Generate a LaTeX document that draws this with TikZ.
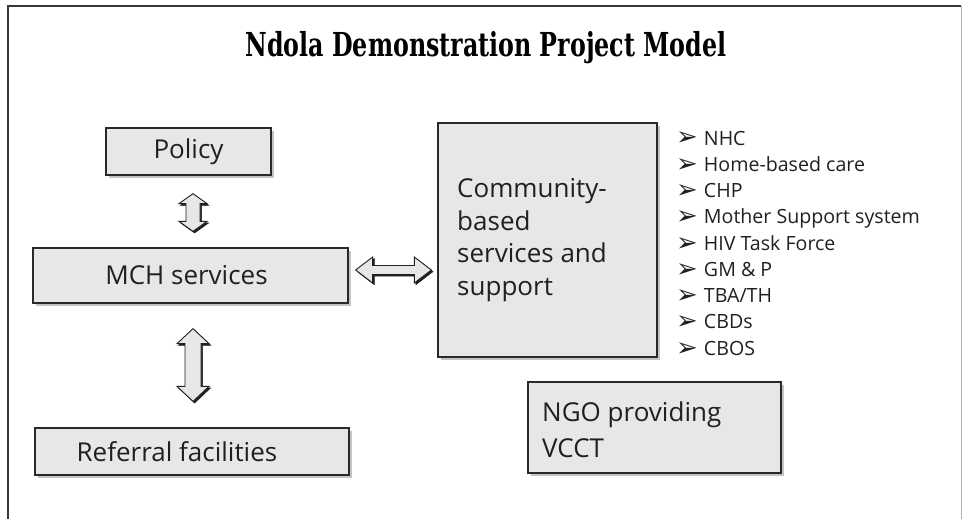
\documentclass[tikz,border=0pt]{standalone}
\usepackage{fontspec}
\usepackage{graphicx}
\setmainfont{Open Sans}
\newfontfamily\titlefont{DejaVu Serif}
\newfontfamily\symfont{DejaVu Sans}
\usetikzlibrary{calc,shadows}
\definecolor{boxfill}{HTML}{E6E7E8}
\definecolor{boxline}{HTML}{2B2829}
\definecolor{shadowc}{HTML}{C4C4C4}
\definecolor{framec}{HTML}{3A3738}
\definecolor{txt}{HTML}{231F20}
\tikzset{
  box/.style={draw=boxline, line width=1.3pt, fill=boxfill, inner sep=0pt,
    drop shadow={shadow xshift=3pt, shadow yshift=-3pt, fill=shadowc, opacity=1}},
  lbl/.style={inner sep=0pt, text=txt, font=\fontsize{26}{32.7}\selectfont},
  item/.style={inner sep=0pt, text=txt, font=\fontsize{19.6}{24}\selectfont, anchor=base west},
  arrshadow/.style={fill=txt, draw=txt, line width=0.6pt},
  arrbody/.style={fill=boxfill, draw=txt, line width=0.9pt, line join=miter},
}
% vertical double arrow: style, top, bottom, shaft half, head half, head length, offset
\newcommand{\vdblpath}[7]{%
  \path[#1] let \p1=($(#2)+(#7pt,-#7pt)$), \p2=($(#3)+(#7pt,-#7pt)$) in
    (\x1,\y1) -- ({\x1+#5pt},{\y1-#6pt}) -- ({\x1+#4pt},{\y1-#6pt}) -- ({\x1+#4pt},{\y2+#6pt})
    -- ({\x1+#5pt},{\y2+#6pt}) -- (\x1,\y2) -- ({\x1-#5pt},{\y2+#6pt}) -- ({\x1-#4pt},{\y2+#6pt})
    -- ({\x1-#4pt},{\y1-#6pt}) -- ({\x1-#5pt},{\y1-#6pt}) -- cycle;}
\newcommand{\hdblpath}[7]{%
  \path[#1] let \p1=($(#2)+(#7pt,-#7pt)$), \p2=($(#3)+(#7pt,-#7pt)$) in
    (\x1,\y1) -- ({\x1+#6pt},{\y1+#5pt}) -- ({\x1+#6pt},{\y1+#4pt}) -- ({\x2-#6pt},{\y1+#4pt})
    -- ({\x2-#6pt},{\y1+#5pt}) -- (\x2,\y1) -- ({\x2-#6pt},{\y1-#5pt}) -- ({\x2-#6pt},{\y1-#4pt})
    -- ({\x1+#6pt},{\y1-#4pt}) -- ({\x1+#6pt},{\y1-#5pt}) -- cycle;}
\newcommand{\vdbl}[5]{\vdblpath{arrshadow}{#1}{#2}{#3}{#4}{#5}{1.6}\vdblpath{arrbody}{#1}{#2}{#3}{#4}{#5}{0}}
\newcommand{\hdbl}[5]{\hdblpath{arrshadow}{#1}{#2}{#3}{#4}{#5}{1.6}\hdblpath{arrbody}{#1}{#2}{#3}{#4}{#5}{0}}
\begin{document}
\begin{tikzpicture}[x=1pt, y=-1pt]
\useasboundingbox (0,0) rectangle (962,519);
\fill[white] (0,0) rectangle (962,519);
% frame
\draw[framec, line width=2pt] (8,519) -- (8,6) -- (961,6);
\draw[black!30, line width=1pt] (961,6) -- (961,519);
% title
\node[inner sep=0pt, text=black] (title) at (486,48)
  {\scalebox{0.72}[1]{\titlefont\bfseries\fontsize{33}{40}\selectfont Ndola Demonstration Project Model}};
% boxes
\node[box, minimum width=165pt, minimum height=47pt] (policy) at (188.5,151.5) {};
\node[lbl] (policyT) at (policy) {Policy};
\node[box, minimum width=315pt, minimum height=55pt] (mch) at (190.5,275.5) {};
\node[lbl] (mchT) at ([xshift=-4pt]mch.center) {MCH services};
\node[box, minimum width=314pt, minimum height=47pt] (ref) at (192,451.5) {};
\node[lbl] (refT) at ([xshift=-15pt]ref.center) {Referral facilities};
\node[box, minimum width=219pt, minimum height=234pt] (comm) at (547.5,240) {};
\node[lbl, align=left, anchor=west] (commT) at (457,240) {Community-\\based\\services and\\support};
\node[box, minimum width=253pt, minimum height=91pt] (ngo) at (654.5,427.5) {};
\node[lbl, align=left, anchor=west, font=\fontsize{26}{36}\selectfont] (ngoT) at (542,430) {NGO providing\\VCCT};
% list
\foreach \t [count=\i] in {NHC,Home-based care,CHP,Mother Support system,HIV Task Force,GM \& P,TBA/TH,CBDs,CBOS}{
  \node[item] (item\i) at (676,{145+(\i-1)*26.25}) {\raisebox{-1pt}{\symfont\fontsize{26}{26}\selectfont ➢}\hspace{6pt}\t};
}
% arrows
\coordinate (a1t) at ([yshift=-18pt]policy.south -| 193,0);
\coordinate (a1b) at ([yshift=16pt]mch.north -| 193,0);
\vdbl{a1t}{a1b}{7}{14}{10}
\coordinate (a2t) at ([yshift=-25pt]mch.south -| 193,0);
\coordinate (a2b) at ([yshift=26pt]ref.north -| 193,0);
\vdbl{a2t}{a2b}{8}{16}{15}
\coordinate (a3l) at ([xshift=7pt]mch.east |- 0,270);
\coordinate (a3r) at ([xshift=-6pt]comm.west |- 0,270);
\hdbl{a3l}{a3r}{4.5}{13}{17}
\end{tikzpicture}
\end{document}
